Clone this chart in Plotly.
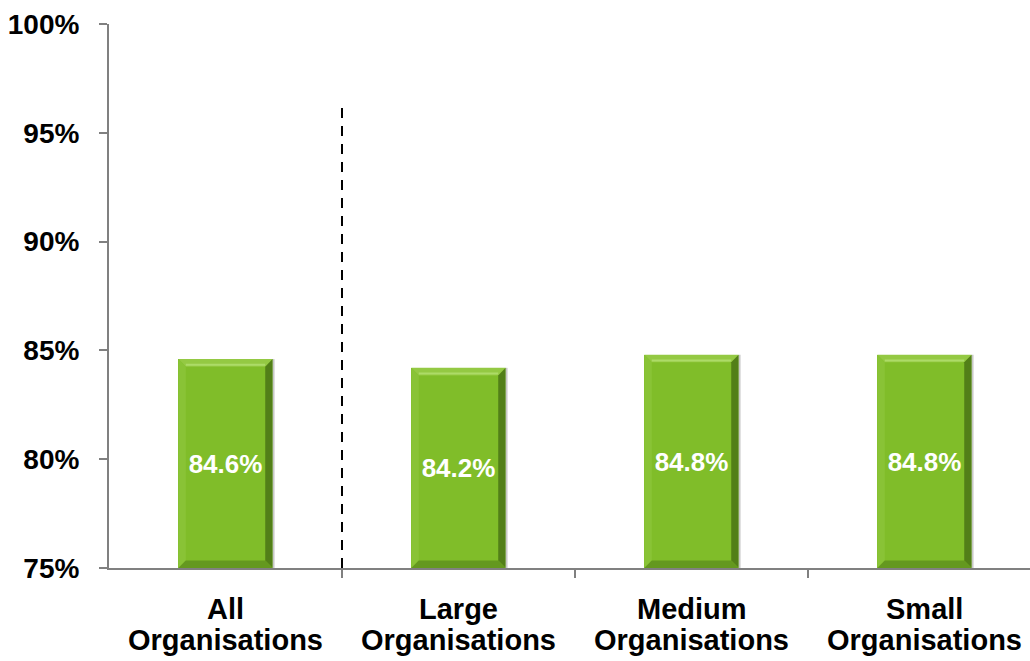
import plotly.graph_objects as go

# Share of responses by organisation size
line1 = ["All", "Large", "Medium", "Small"]
line2 = ["Organisations", "Organisations", "Organisations", "Organisations"]
values = [84.6, 84.2, 84.8, 84.8]
value_labels = ["84.6%", "84.2%", "84.8%", "84.8%"]
y_ticks = [75, 80, 85, 90, 95, 100]
y_tick_labels = ["75%", "80%", "85%", "90%", "95%", "100%"]

FONT = "Liberation Sans, Arial, sans-serif"
FACE = "#80bd29"
BAR_W = 0.405
Y0 = 75

xs = list(range(len(values)))

fig = go.Figure()
fig.add_trace(go.Bar(
    x=xs, y=[v - Y0 for v in values], base=Y0, width=BAR_W,
    marker=dict(color=FACE, line=dict(width=0)),
    text=value_labels, textposition="inside", insidetextanchor="middle",
    textfont=dict(family=FONT, size=26, color="white", weight="bold"),
    textangle=0, hoverinfo="skip", showlegend=False,
))

# bevelled edges on each bar
dx, dy = 0.032, 0.35
shapes = []
for x, v in zip(xs, values):
    l, r = x - BAR_W / 2, x + BAR_W / 2
    b, t = Y0, v
    faces = [
        (f"M{l},{t} L{r},{t} L{r-dx},{t-dy} L{l+dx},{t-dy} Z", "#94c943"),   # top
        (f"M{l},{b} L{l},{t} L{l+dx},{t-dy} L{l+dx},{b+dy} Z", "#89c336"),   # left
        (f"M{r},{b} L{r},{t} L{r-dx},{t-dy} L{r-dx},{b+dy} Z", "#527f18"),   # right
        (f"M{l},{b} L{r},{b} L{r-dx},{b+dy} L{l+dx},{b+dy} Z", "#64981f"),   # bottom
    ]
    for path, col in faces:
        shapes.append(dict(type="path", path=path, xref="x", yref="y",
                           fillcolor=col, line=dict(width=0), layer="above"))
    # highlight along the inner edge of the top bevel
    shapes.append(dict(type="line", xref="x", yref="y", x0=l + dx, x1=r - dx,
                       y0=t - dy * 0.75, y1=t - dy * 0.75,
                       line=dict(color="#addb68", width=2), layer="above"))
    # soft shadow along the right side
    shapes.append(dict(type="rect", xref="x", yref="y", x0=r, x1=r + 0.008,
                       y0=b, y1=t, fillcolor="#c8c8c8", line=dict(width=0),
                       layer="above"))

# dashed separator between the overall figure and the size groups
shapes.append(dict(type="line", xref="x", yref="y", x0=0.5, x1=0.5, y0=Y0, y1=96.3,
                   line=dict(color="black", width=2, dash="10px,8px"), layer="above"))

annotations = []
for x, a, b in zip(xs, line1, line2):
    annotations.append(dict(x=x, y=-0.075, xref="x", yref="paper", text=a,
                            showarrow=False, yanchor="middle",
                            font=dict(family=FONT, size=29, color="black", weight="bold")))
    annotations.append(dict(x=x, y=-0.132, xref="x", yref="paper", text=b,
                            showarrow=False, yanchor="middle",
                            font=dict(family=FONT, size=29, color="black", weight="bold")))

fig.update_layout(
    width=1030, height=661,
    margin=dict(l=109, r=0, t=24, b=93),
    paper_bgcolor="white", plot_bgcolor="white",
    shapes=shapes, annotations=annotations,
    bargap=0,
    xaxis=dict(range=[-0.5, -0.5 + (1030 - 109) / 233], tickvals=[0.5, 1.5, 2.5],
               ticktext=["", "", ""], ticks="outside", ticklen=8, tickwidth=2,
               tickcolor="#808080", showline=True, linecolor="#808080", linewidth=2,
               showgrid=False, zeroline=False, fixedrange=True),
    yaxis=dict(range=[75, 100], tickvals=y_ticks, ticktext=y_tick_labels,
               ticks="outside", ticklen=8, tickwidth=2, tickcolor="#808080",
               showline=True, linecolor="#808080", linewidth=2, showgrid=False,
               zeroline=False, ticklabelstandoff=14,
               tickfont=dict(family=FONT, size=28, color="black", weight="bold")),
)

fig.write_html("out.html")
